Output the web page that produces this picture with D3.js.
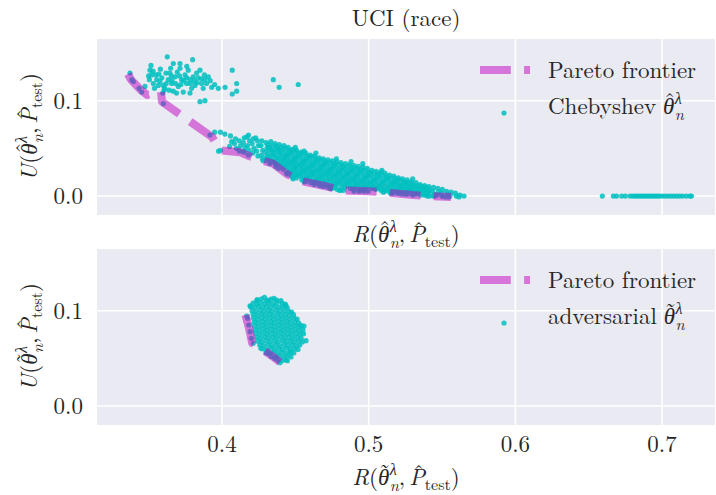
<!DOCTYPE html>
<html>
<head>
<meta charset="utf-8">
<script src="https://cdn.jsdelivr.net/npm/d3@7"></script>
<style>
  body { margin: 0; background: #ffffff; }
</style>
</head>
<body>
<svg id="chart" width="716" height="495"></svg>
<script>
// ---------- data ----------
const xTicks = [0.4, 0.5, 0.6, 0.7];
const yTicks = [0.0, 0.1];
const xTickLabels = ["0.4", "0.5", "0.6", "0.7"];
const yTickLabels = ["0.0", "0.1"];

// Chebyshev scalarisation: (risk, unfairness) of every trained model
const chebPoints = [
  // upper-left group
  [0.3373,0.129],[0.3385,0.122],[0.3396,0.120],[0.3453,0.109],[0.3435,0.113],[0.3475,0.115],[0.3516,0.137],[0.3509,0.132],
  [0.3505,0.122],[0.3500,0.126],[0.3521,0.127],[0.3532,0.118],[0.3530,0.131],[0.3540,0.113],[0.3550,0.127],[0.3555,0.122],
  [0.3566,0.116],[0.3570,0.128],[0.3577,0.120],[0.3580,0.133],[0.3590,0.124],[0.3596,0.108],[0.3600,0.116],[0.3605,0.111],
  [0.3611,0.113],[0.3620,0.118],[0.3627,0.146],[0.3618,0.129],[0.3634,0.122],[0.3640,0.111],[0.3645,0.129],[0.3650,0.134],
  [0.3655,0.126],[0.3657,0.118],[0.3660,0.121],[0.3668,0.139],[0.3668,0.110],[0.3680,0.125],[0.3685,0.118],[0.3690,0.108],
  [0.3695,0.130],[0.3702,0.115],[0.3710,0.126],[0.3714,0.139],[0.3714,0.134],[0.3720,0.117],[0.3725,0.122],[0.3736,0.109],
  [0.3740,0.121],[0.3748,0.127],[0.3759,0.118],[0.3760,0.124],[0.3760,0.136],[0.3770,0.132],[0.3782,0.122],[0.3782,0.108],
  [0.3785,0.118],[0.3793,0.113],[0.3800,0.143],[0.3804,0.125],[0.3810,0.121],[0.3816,0.116],[0.3827,0.129],[0.3830,0.119],
  [0.3838,0.124],[0.3850,0.132],[0.3850,0.099],[0.3860,0.123],[0.3861,0.118],[0.3872,0.113],[0.3880,0.127],[0.3884,0.100],
  [0.3884,0.122],[0.3895,0.118],[0.3907,0.125],[0.3920,0.121],[0.3930,0.114],[0.3950,0.117],[0.3975,0.113],[0.4021,0.114],
  [0.4070,0.132],[0.4100,0.118],[0.4100,0.110],[0.4070,0.107],[0.4350,0.122],[0.4520,0.117],[0.4390,0.114],
  // points along the frontier
  [0.3600,0.097],[0.3918,0.064],[0.3950,0.067],[0.3990,0.067],[0.4020,0.065],[0.3977,0.047],[0.3990,0.048],[0.4120,0.047],
  [0.4150,0.046],[0.4180,0.043],[0.4280,0.037],[0.4330,0.036],[0.4365,0.034],[0.4440,0.024],[0.4475,0.021],[0.4484,0.018],
  [0.4560,0.015],[0.4630,0.014],[0.4670,0.012],[0.4740,0.008],[0.4800,0.006],[0.4830,0.006],[0.4900,0.005],[0.4935,0.005],
  [0.4970,0.005],[0.5100,0.004],[0.5150,0.003],[0.5200,0.003],[0.5250,0.002],[0.5300,0.001],[0.5400,0.000],[0.5450,0.000],
  [0.5500,0.000],[0.5550,-0.001],
  // main band
  [0.4058,0.063],[0.4066,0.057],[0.4052,0.052],
  [0.4092,0.060],[0.4085,0.055],[0.4098,0.050],
  [0.4118,0.058],[0.4127,0.053],[0.4112,0.049],
  [0.4152,0.061],[0.4146,0.056],[0.4158,0.051],[0.4149,0.047],
  [0.4181,0.064],[0.4188,0.058],[0.4175,0.053],[0.4184,0.048],
  [0.4213,0.060],[0.4206,0.055],[0.4218,0.050],[0.4210,0.045],
  [0.4242,0.058],[0.4249,0.053],[0.4236,0.047],[0.4245,0.042],
  [0.4272,0.058],[0.4266,0.053],[0.4278,0.048],[0.4270,0.043],[0.4276,0.039],
  [0.4301,0.056],[0.4308,0.051],[0.4296,0.046],[0.4304,0.041],[0.4298,0.037],
  [0.4333,0.057],[0.4327,0.051],[0.4338,0.047],[0.4330,0.042],[0.4336,0.038],[0.4326,0.034],
  [0.4362,0.055],[0.4368,0.050],[0.4356,0.045],[0.4365,0.040],[0.4359,0.035],[0.4366,0.031],
  [0.4391,0.054],[0.4386,0.049],[0.4396,0.044],[0.4388,0.039],[0.4394,0.034],[0.4385,0.029],
  [0.4423,0.053],[0.4417,0.048],[0.4428,0.043],[0.4420,0.038],[0.4426,0.033],[0.4418,0.028],
  [0.4451,0.051],[0.4457,0.046],[0.4446,0.041],[0.4454,0.036],[0.4448,0.031],[0.4456,0.026],[0.4449,0.023],
  [0.4482,0.049],[0.4476,0.045],[0.4487,0.040],[0.4479,0.035],[0.4485,0.030],[0.4477,0.025],[0.4484,0.020],
  [0.4508,0.048],[0.4515,0.043],[0.4504,0.038],[0.4512,0.033],[0.4506,0.028],[0.4514,0.023],[0.4507,0.019],
  [0.4542,0.046],[0.4536,0.042],[0.4547,0.037],[0.4539,0.032],[0.4545,0.027],[0.4537,0.022],[0.4544,0.017],
  [0.4571,0.045],[0.4577,0.040],[0.4566,0.035],[0.4574,0.030],[0.4568,0.025],[0.4576,0.020],[0.4569,0.015],
  [0.4602,0.043],[0.4596,0.039],[0.4607,0.034],[0.4599,0.029],[0.4605,0.024],[0.4597,0.019],[0.4604,0.014],
  [0.4631,0.042],[0.4637,0.037],[0.4626,0.032],[0.4634,0.027],[0.4628,0.022],[0.4636,0.017],[0.4629,0.012],
  [0.4662,0.040],[0.4656,0.036],[0.4667,0.031],[0.4659,0.026],[0.4665,0.021],[0.4657,0.016],[0.4664,0.011],
  [0.4691,0.039],[0.4697,0.034],[0.4686,0.029],[0.4694,0.024],[0.4688,0.019],[0.4696,0.014],[0.4689,0.010],
  [0.4722,0.038],[0.4716,0.033],[0.4727,0.028],[0.4719,0.023],[0.4725,0.018],[0.4717,0.013],[0.4724,0.009],
  [0.4751,0.037],[0.4757,0.032],[0.4746,0.027],[0.4754,0.022],[0.4748,0.017],[0.4756,0.012],[0.4749,0.008],
  [0.4782,0.036],[0.4776,0.031],[0.4787,0.026],[0.4779,0.021],[0.4785,0.016],[0.4777,0.011],[0.4784,0.007],
  [0.4811,0.035],[0.4817,0.030],[0.4806,0.025],[0.4814,0.020],[0.4808,0.015],[0.4816,0.010],[0.4809,0.006],
  [0.4842,0.034],[0.4836,0.029],[0.4847,0.024],[0.4839,0.019],[0.4845,0.014],[0.4837,0.009],
  [0.4871,0.033],[0.4877,0.028],[0.4866,0.023],[0.4874,0.018],[0.4868,0.013],[0.4876,0.008],
  [0.4902,0.032],[0.4896,0.027],[0.4907,0.022],[0.4899,0.017],[0.4905,0.012],[0.4897,0.007],
  [0.4931,0.031],[0.4937,0.026],[0.4926,0.021],[0.4934,0.016],[0.4928,0.011],[0.4936,0.006],
  [0.4962,0.030],[0.4956,0.025],[0.4967,0.020],[0.4959,0.015],[0.4965,0.010],[0.4957,0.006],
  [0.4991,0.029],[0.4997,0.024],[0.4986,0.019],[0.4994,0.014],[0.4988,0.009],[0.4996,0.005],
  [0.5022,0.027],[0.5016,0.022],[0.5027,0.017],[0.5019,0.012],[0.5025,0.008],
  [0.5051,0.026],[0.5057,0.021],[0.5046,0.016],[0.5054,0.011],[0.5048,0.007],
  [0.5082,0.025],[0.5076,0.020],[0.5087,0.015],[0.5079,0.010],[0.5085,0.006],
  [0.5111,0.024],[0.5117,0.019],[0.5106,0.014],[0.5114,0.009],[0.5108,0.005],
  [0.5142,0.022],[0.5136,0.018],[0.5147,0.013],[0.5139,0.008],[0.5145,0.004],
  [0.5171,0.021],[0.5177,0.016],[0.5166,0.012],[0.5174,0.007],[0.5168,0.003],
  [0.5202,0.019],[0.5196,0.015],[0.5207,0.011],[0.5199,0.006],[0.5205,0.003],
  [0.5231,0.018],[0.5237,0.014],[0.5226,0.010],[0.5234,0.006],[0.5228,0.002],
  [0.5262,0.017],[0.5256,0.013],[0.5267,0.009],[0.5259,0.005],[0.5265,0.002],
  [0.5291,0.015],[0.5297,0.011],[0.5286,0.007],[0.5294,0.003],
  [0.5322,0.014],[0.5316,0.010],[0.5327,0.006],[0.5319,0.002],
  [0.5351,0.012],[0.5357,0.008],[0.5346,0.005],[0.5354,0.001],
  [0.5382,0.011],[0.5376,0.007],[0.5387,0.004],[0.5379,0.001],
  [0.5411,0.010],[0.5417,0.006],[0.5406,0.003],[0.5414,0.000],
  [0.5442,0.009],[0.5436,0.005],[0.5447,0.002],[0.5439,0.000],
  [0.5471,0.008],[0.5477,0.004],[0.5466,0.001],
  [0.5502,0.007],[0.5496,0.003],[0.5507,0.000],
  [0.5531,0.005],[0.5537,0.002],[0.5526,-0.001],
  [0.5562,0.004],[0.5556,0.001],
  [0.5591,0.003],[0.5597,0.000],
  [0.5622,0.001],[0.5616,-0.001],
  [0.5650,0.000],
  [0.4960,0.034],[0.4640,0.045],[0.4780,0.039],[0.4170,0.062],[0.4500,0.051],[0.5090,0.027],[0.5300,0.018],[0.4560,0.047],
  [0.4880,0.036],[0.4230,0.061],
  // band core, in between the rows above
  [0.4315,0.054],[0.4318,0.049],[0.4312,0.044],[0.4316,0.039],
  [0.4345,0.053],[0.4342,0.048],[0.4348,0.043],[0.4344,0.036],
  [0.4375,0.052],[0.4378,0.047],[0.4372,0.042],[0.4376,0.037],[0.4373,0.033],
  [0.4405,0.051],[0.4402,0.046],[0.4408,0.041],[0.4404,0.036],[0.4407,0.031],
  [0.4435,0.050],[0.4438,0.045],[0.4432,0.040],[0.4436,0.035],[0.4433,0.030],
  [0.4465,0.048],[0.4462,0.043],[0.4468,0.038],[0.4464,0.033],[0.4467,0.028],
  [0.4495,0.046],[0.4498,0.041],[0.4492,0.036],[0.4496,0.031],[0.4493,0.026],[0.4497,0.022],
  [0.4525,0.045],[0.4522,0.040],[0.4528,0.035],[0.4524,0.030],[0.4527,0.025],[0.4523,0.021],
  [0.4555,0.044],[0.4558,0.039],[0.4552,0.034],[0.4556,0.029],[0.4553,0.024],[0.4557,0.019],
  [0.4585,0.042],[0.4582,0.037],[0.4588,0.032],[0.4584,0.027],[0.4587,0.022],[0.4583,0.017],
  [0.4615,0.041],[0.4618,0.036],[0.4612,0.031],[0.4616,0.026],[0.4613,0.021],[0.4617,0.016],
  [0.4645,0.039],[0.4642,0.034],[0.4648,0.029],[0.4644,0.024],[0.4647,0.019],[0.4643,0.014],
  [0.4675,0.038],[0.4678,0.033],[0.4672,0.028],[0.4676,0.023],[0.4673,0.018],[0.4677,0.013],
  [0.4705,0.036],[0.4702,0.031],[0.4708,0.026],[0.4704,0.021],[0.4707,0.016],[0.4703,0.011],
  [0.4735,0.035],[0.4738,0.030],[0.4732,0.025],[0.4736,0.020],[0.4733,0.015],[0.4737,0.010],
  [0.4765,0.034],[0.4762,0.029],[0.4768,0.024],[0.4764,0.019],[0.4767,0.014],[0.4763,0.009],
  [0.4795,0.033],[0.4798,0.028],[0.4792,0.023],[0.4796,0.018],[0.4793,0.013],
  [0.4825,0.032],[0.4822,0.027],[0.4828,0.022],[0.4824,0.017],[0.4827,0.012],
  [0.4855,0.031],[0.4858,0.026],[0.4852,0.021],[0.4856,0.016],[0.4853,0.011],
  [0.4885,0.030],[0.4882,0.025],[0.4888,0.020],[0.4884,0.015],[0.4887,0.010],
  [0.4915,0.029],[0.4918,0.024],[0.4912,0.019],[0.4916,0.014],[0.4913,0.009],
  [0.4945,0.028],[0.4942,0.023],[0.4948,0.018],[0.4944,0.013],[0.4947,0.008],
  [0.4975,0.027],[0.4978,0.022],[0.4972,0.017],[0.4976,0.012],[0.4973,0.007],
  [0.5005,0.025],[0.5002,0.020],[0.5008,0.015],[0.5004,0.010],
  [0.5035,0.024],[0.5038,0.019],[0.5032,0.014],[0.5036,0.009],
  [0.5065,0.023],[0.5062,0.018],[0.5068,0.013],[0.5064,0.008],
  [0.5095,0.022],[0.5098,0.017],[0.5092,0.012],[0.5096,0.007],
  [0.5125,0.021],[0.5122,0.016],[0.5128,0.011],[0.5124,0.006],
  [0.5155,0.019],[0.5158,0.014],[0.5152,0.010],[0.5156,0.005],
  [0.5185,0.018],[0.5182,0.013],[0.5188,0.009],[0.5184,0.005],
  [0.5215,0.017],[0.5218,0.012],[0.5212,0.008],[0.5216,0.004],
  [0.5245,0.015],[0.5242,0.011],[0.5248,0.007],
  [0.5275,0.014],[0.5278,0.010],[0.5272,0.006],
  [0.5305,0.012],[0.5302,0.008],[0.5308,0.004],
  [0.5335,0.011],[0.5338,0.007],[0.5332,0.003],
  [0.5365,0.010],[0.5362,0.006],[0.5368,0.003],
  [0.5395,0.009],[0.5398,0.005],[0.5392,0.002],
  // high-risk group
  [0.6593,0.000],[0.6668,0.000],[0.6690,0.000],[0.6725,0.000],[0.6750,0.000],[0.6782,0.000],[0.6800,0.000],[0.6815,0.000],
  [0.6830,0.000],[0.6845,0.000],[0.6860,0.000],[0.6875,0.000],[0.6890,0.000],[0.6905,0.000],[0.6920,0.000],[0.6935,0.000],
  [0.6950,0.000],[0.6965,0.000],[0.6980,0.000],[0.7000,0.000],[0.7020,0.000],[0.7040,0.000],[0.7060,0.000],[0.7080,0.000],
  [0.7100,0.000],[0.7120,0.000],[0.7140,0.000],[0.7165,0.000],[0.7190,0.000],[0.7200,0.000]
];

const chebFrontier = [
  [0.3359,0.128],[0.3380,0.122],[0.3448,0.111],[0.3489,0.106],[0.3584,0.110],[0.3591,0.099],[0.3700,0.087],[0.3932,0.062],
  [0.3986,0.048],[0.4123,0.046],[0.4184,0.042],[0.4280,0.037],[0.4348,0.034],[0.4443,0.023],[0.4532,0.016],[0.4716,0.010],
  [0.4805,0.006],[0.5002,0.005],[0.5098,0.004],[0.5302,0.001],[0.5391,0.000],[0.5561,-0.001]
];

// adversarial training: (risk, unfairness) of every trained model
const advPoints = [
  [0.4240,0.1115],[0.4270,0.1125],[0.4305,0.1110],[0.4335,0.1122],[0.4372,0.1112],[0.4402,0.1105],
  [0.4212,0.1080],[0.4238,0.1072],[0.4265,0.1085],[0.4292,0.1076],[0.4320,0.1083],[0.4348,0.1074],[0.4375,0.1086],[0.4410,0.1078],[0.4432,0.1070],
  [0.4195,0.1040],[0.4222,0.1035],[0.4250,0.1045],[0.4278,0.1036],[0.4305,0.1043],[0.4332,0.1034],[0.4360,0.1046],[0.4388,0.1037],[0.4415,0.1042],[0.4445,0.1030],
  [0.4205,0.1000],[0.4232,0.0992],[0.4260,0.1004],[0.4287,0.0995],[0.4315,0.1003],[0.4342,0.0994],[0.4370,0.1005],[0.4397,0.0996],[0.4425,0.1002],[0.4455,0.0993],[0.4475,0.0985],
  [0.4212,0.0960],[0.4240,0.0953],[0.4268,0.0965],[0.4295,0.0955],[0.4322,0.0963],[0.4350,0.0954],[0.4378,0.0966],[0.4405,0.0956],[0.4432,0.0962],[0.4460,0.0953],[0.4488,0.0958],
  [0.4215,0.0920],[0.4242,0.0913],[0.4270,0.0925],[0.4298,0.0915],[0.4325,0.0923],[0.4352,0.0914],[0.4380,0.0926],[0.4408,0.0916],[0.4435,0.0922],[0.4462,0.0913],[0.4490,0.0921],[0.4512,0.0912],
  [0.4220,0.0880],[0.4247,0.0873],[0.4275,0.0885],[0.4302,0.0875],[0.4330,0.0883],[0.4357,0.0874],[0.4385,0.0886],[0.4412,0.0876],[0.4440,0.0882],[0.4467,0.0873],[0.4495,0.0881],[0.4522,0.0872],
  [0.4222,0.0840],[0.4250,0.0833],[0.4277,0.0845],[0.4305,0.0835],[0.4332,0.0843],[0.4360,0.0834],[0.4387,0.0846],[0.4415,0.0836],[0.4442,0.0842],[0.4470,0.0833],[0.4497,0.0841],[0.4525,0.0832],[0.4540,0.0845],
  [0.4226,0.0800],[0.4253,0.0793],[0.4281,0.0805],[0.4308,0.0795],[0.4336,0.0803],[0.4363,0.0794],[0.4391,0.0806],[0.4418,0.0796],[0.4446,0.0802],[0.4473,0.0793],[0.4501,0.0801],[0.4528,0.0792],[0.4552,0.0798],
  [0.4230,0.0760],[0.4257,0.0753],[0.4284,0.0765],[0.4312,0.0755],[0.4339,0.0763],[0.4367,0.0754],[0.4394,0.0766],[0.4422,0.0756],[0.4449,0.0762],[0.4477,0.0753],[0.4504,0.0761],[0.4532,0.0752],[0.4556,0.0758],
  [0.4238,0.0720],[0.4265,0.0713],[0.4292,0.0725],[0.4320,0.0715],[0.4347,0.0723],[0.4375,0.0714],[0.4402,0.0726],[0.4430,0.0716],[0.4457,0.0722],[0.4485,0.0713],[0.4512,0.0721],[0.4540,0.0712],
  [0.4245,0.0680],[0.4272,0.0673],[0.4300,0.0685],[0.4327,0.0675],[0.4355,0.0683],[0.4382,0.0674],[0.4410,0.0686],[0.4437,0.0676],[0.4465,0.0682],[0.4492,0.0673],[0.4520,0.0681],[0.4548,0.0672],
  [0.4258,0.0640],[0.4285,0.0633],[0.4313,0.0645],[0.4340,0.0635],[0.4368,0.0643],[0.4395,0.0634],[0.4423,0.0646],[0.4450,0.0636],[0.4478,0.0642],[0.4505,0.0633],[0.4530,0.0640],
  [0.4275,0.0600],[0.4302,0.0593],[0.4330,0.0605],[0.4357,0.0595],[0.4385,0.0603],[0.4412,0.0594],[0.4440,0.0606],[0.4467,0.0596],[0.4495,0.0602],[0.4518,0.0594],
  [0.4300,0.0560],[0.4327,0.0553],[0.4355,0.0565],[0.4382,0.0555],[0.4410,0.0563],[0.4437,0.0554],[0.4465,0.0566],[0.4490,0.0556],
  [0.4335,0.0520],[0.4362,0.0513],[0.4390,0.0525],[0.4417,0.0515],[0.4445,0.0523],[0.4470,0.0514],
  [0.4380,0.0480],[0.4410,0.0475],[0.4435,0.0485],
  [0.4191,0.1052],[0.4355,0.1130],[0.4437,0.1052],[0.4559,0.0839],[0.4573,0.0685],[0.4446,0.0475],[0.4395,0.0454],[0.4214,0.0658],
  [0.4237,0.1105],[0.4316,0.1105],[0.4168,0.0944],[0.4290,0.1140],[0.4470,0.0560],
  [0.4175,0.0920],[0.4182,0.0850],[0.4192,0.0780],[0.4200,0.0710],[0.4265,0.0605],[0.4315,0.0552],[0.4360,0.0500]
];

const advFrontier = [
  [0.4160,0.0955],[0.4172,0.0885],[0.4186,0.0805],[0.4197,0.0725],[0.4205,0.0660],[0.4248,0.0620],[0.4300,0.0570],
  [0.4350,0.0515],[0.4395,0.0460]
];

// ---------- layout ----------
const FONT = "'Latin Modern Roman', 'Liberation Serif', serif";
const GREEK = "'Liberation Serif', serif";
const svg = d3.select("#chart");
const plotLeft = 97, plotRight = 715;
const FS = 23;
const textColor = "#262626";
const pointColor = "#00bfbf";
const frontierColor = "#bf00bf";
const dash = "30.8,13.3";
const dotR = 2.6;

const x = d3.scaleLinear().domain([0.3148, 0.7361]).range([plotLeft, plotRight]);

function label(sel, family) {
  return sel.attr("font-family", family || FONT).attr("fill", textColor);
}

// text measurement for the mathematical labels
const measurer = label(svg.append("text")).attr("visibility", "hidden");
function textWidth(t, italic, size, family) {
  measurer.attr("font-family", family || FONT).attr("font-size", size)
    .attr("font-style", italic ? "italic" : "normal").text(t);
  return measurer.node().getComputedTextLength();
}

// lays out a run of text pieces (with scripts and accents) and aligns it
function mathText(parent, parts, size, align) {
  const outer = parent.append("g");
  const g = outer.append("g");
  let cursor = 0, prevStart = 0;
  for (const p of parts) {
    const s = size * (p.s || 1);
    const w = textWidth(p.t, p.it, s, p.f);
    const start = p.stack ? prevStart : cursor + (p.dx || 0) * size;
    label(g.append("text"), p.f)
      .attr("x", start).attr("y", -(p.dy || 0) * size)
      .attr("font-size", s)
      .attr("font-style", p.it ? "italic" : "normal")
      .text(p.t);
    if (p.acc) {
      label(g.append("text"))
        .attr("x", start + w / 2 + (p.ax || 0) * size)
        .attr("y", -(p.ay || 0) * size)
        .attr("font-size", s)
        .attr("text-anchor", "middle")
        .text(p.acc);
    }
    prevStart = start;
    cursor = Math.max(cursor, start + w);
  }
  const shift = align === "middle" ? -cursor / 2 : align === "end" ? -cursor : 0;
  g.attr("transform", `translate(${shift},0)`);
  return outer;
}

const HAT = "\u02C6", TILDE = "\u02DC";
function thetaParts(acc, gap) {
  return [
    { t: "\u03B8", it: true, f: GREEK, acc: acc, ay: 0.2, ax: 0.05, dx: gap || 0 },
    { t: "\u03BB", it: true, f: GREEK, s: 0.7, dy: 0.42, dx: 0.02 },
    { t: "n", it: true, s: 0.7, dy: -0.24, stack: true }
  ];
}
function riskParts(letter, acc) {
  return [
    { t: letter, it: true },
    { t: "(" },
    ...thetaParts(acc),
    { t: "," },
    { t: "P", it: true, acc: HAT, ay: 0.18, ax: 0.08, dx: 0.17 },
    { t: "test", s: 0.7, dy: -0.22 },
    { t: ")" }
  ];
}

const panels = [
  { top: 39, bottom: 215, points: chebPoints, frontier: chebFrontier, acc: HAT, name: "Chebyshev" },
  { top: 249, bottom: 425, points: advPoints, frontier: advFrontier, acc: TILDE, name: "adversarial" }
];

panels.forEach((pn, i) => {
  const y = d3.scaleLinear().domain([-0.0199, 0.1647]).range([pn.bottom, pn.top]);
  const g = svg.append("g");

  // background
  g.append("rect")
    .attr("x", plotLeft).attr("y", pn.top)
    .attr("width", plotRight - plotLeft).attr("height", pn.bottom - pn.top)
    .attr("fill", "#eaeaf2");

  // grid
  g.selectAll(".vgrid").data(xTicks).join("line")
    .attr("x1", d => x(d)).attr("x2", d => x(d))
    .attr("y1", pn.top).attr("y2", pn.bottom)
    .attr("stroke", "#ffffff").attr("stroke-width", 1.6);
  g.selectAll(".hgrid").data(yTicks).join("line")
    .attr("x1", plotLeft).attr("x2", plotRight)
    .attr("y1", d => y(d)).attr("y2", d => y(d))
    .attr("stroke", "#ffffff").attr("stroke-width", 1.6);

  // y tick labels
  label(g.selectAll(".ytl").data(yTicks).join("text"))
    .attr("x", 83).attr("y", d => y(d) + 8)
    .attr("text-anchor", "end").attr("font-size", FS)
    .text((d, j) => yTickLabels[j]);

  // scatter
  g.append("g").selectAll("circle").data(pn.points).join("circle")
    .attr("cx", d => x(d[0])).attr("cy", d => y(d[1]))
    .attr("r", dotR)
    .attr("fill", pointColor).attr("fill-opacity", 0.85);

  // Pareto frontier
  const line = d3.line().x(d => x(d[0])).y(d => y(d[1]));
  g.append("path").datum(pn.frontier)
    .attr("d", line)
    .attr("fill", "none")
    .attr("stroke", frontierColor).attr("stroke-opacity", 0.5)
    .attr("stroke-width", 8)
    .attr("stroke-dasharray", dash)
    .attr("stroke-linejoin", "round")
    .attr("stroke-linecap", "butt");

  // legend
  const ly1 = pn.top + 31, ly2 = pn.top + 74;
  g.append("line")
    .attr("x1", 480).attr("x2", 530).attr("y1", ly1).attr("y2", ly1)
    .attr("stroke", frontierColor).attr("stroke-opacity", 0.5)
    .attr("stroke-width", 8).attr("stroke-dasharray", dash);
  label(g.append("text")).attr("x", 548).attr("y", ly1 + 8).attr("font-size", FS).text("Pareto frontier");
  g.append("circle").attr("cx", 504).attr("cy", ly2).attr("r", dotR)
    .attr("fill", pointColor).attr("fill-opacity", 0.85);
  const leg = mathText(g, [{ t: pn.name }, ...thetaParts(pn.acc, 0.3)], FS, "start");
  leg.attr("transform", `translate(548,${ly2 + 1})`);

  // y axis label
  const yl = mathText(g, riskParts("U", pn.acc), FS, "middle");
  yl.attr("transform", `translate(37,${(pn.top + pn.bottom) / 2}) rotate(-90)`);

  // x axis label
  const xl = mathText(g, riskParts("R", pn.acc), FS, "middle");
  xl.attr("transform", `translate(${(plotLeft + plotRight) / 2},${i === 0 ? 242 : 485})`);

  if (i === 1) {
    label(g.selectAll(".xtl").data(xTicks).join("text"))
      .attr("x", d => x(d)).attr("y", 452)
      .attr("text-anchor", "middle").attr("font-size", FS)
      .text((d, j) => xTickLabels[j]);
  }
});

// title
label(svg.append("text"))
  .attr("x", (plotLeft + plotRight) / 2).attr("y", 26)
  .attr("text-anchor", "middle").attr("font-size", FS)
  .text("UCI (race)");
</script>
</body>
</html>
